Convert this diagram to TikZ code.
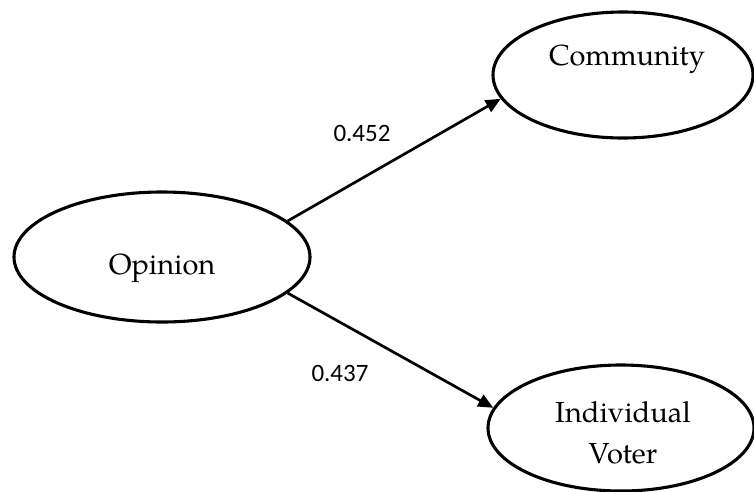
\documentclass[tikz,border=0pt]{standalone}
\usepackage{fontspec}
\setmainfont{TeX Gyre Pagella}
\newfontfamily\lblfont{Carlito}
\usetikzlibrary{shapes.geometric,arrows.meta}
\begin{document}
\begin{tikzpicture}[x=1pt,y=-1pt,
  oval/.style={draw,ellipse,line width=3.1pt,inner sep=0pt},
  ovaltext/.style={font=\fontsize{29}{41}\selectfont,align=center,inner sep=0pt},
  conn/.style={line width=2.7pt,-{Triangle[length=15pt,width=13pt]}},
  coef/.style={font=\lblfont\fontsize{25}{30}\selectfont,inner sep=0pt}]
\useasboundingbox (0,0) rectangle (754,491);
\node[oval,minimum width=296pt,minimum height=130pt] (op) at (162,257) {};
\node[oval,minimum width=260pt,minimum height=126pt] (com) at (623,75) {};
\node[oval,minimum width=266pt,minimum height=126pt] (iv) at (621,428) {};
\node[ovaltext] (opt) at (162,268) {Opinion};
\node[ovaltext] (comt) at (627,59) {Community};
\node[ovaltext] (ivt) at (623,433) {Individual\\Voter};
\draw[conn] (op.16.5) -- (com.191);
\draw[conn] (op.-16) -- (iv.171);
\node[coef] (c1) at (362,133) {0.452};
\node[coef] (c2) at (340,373) {0.437};
\end{tikzpicture}
\end{document}
